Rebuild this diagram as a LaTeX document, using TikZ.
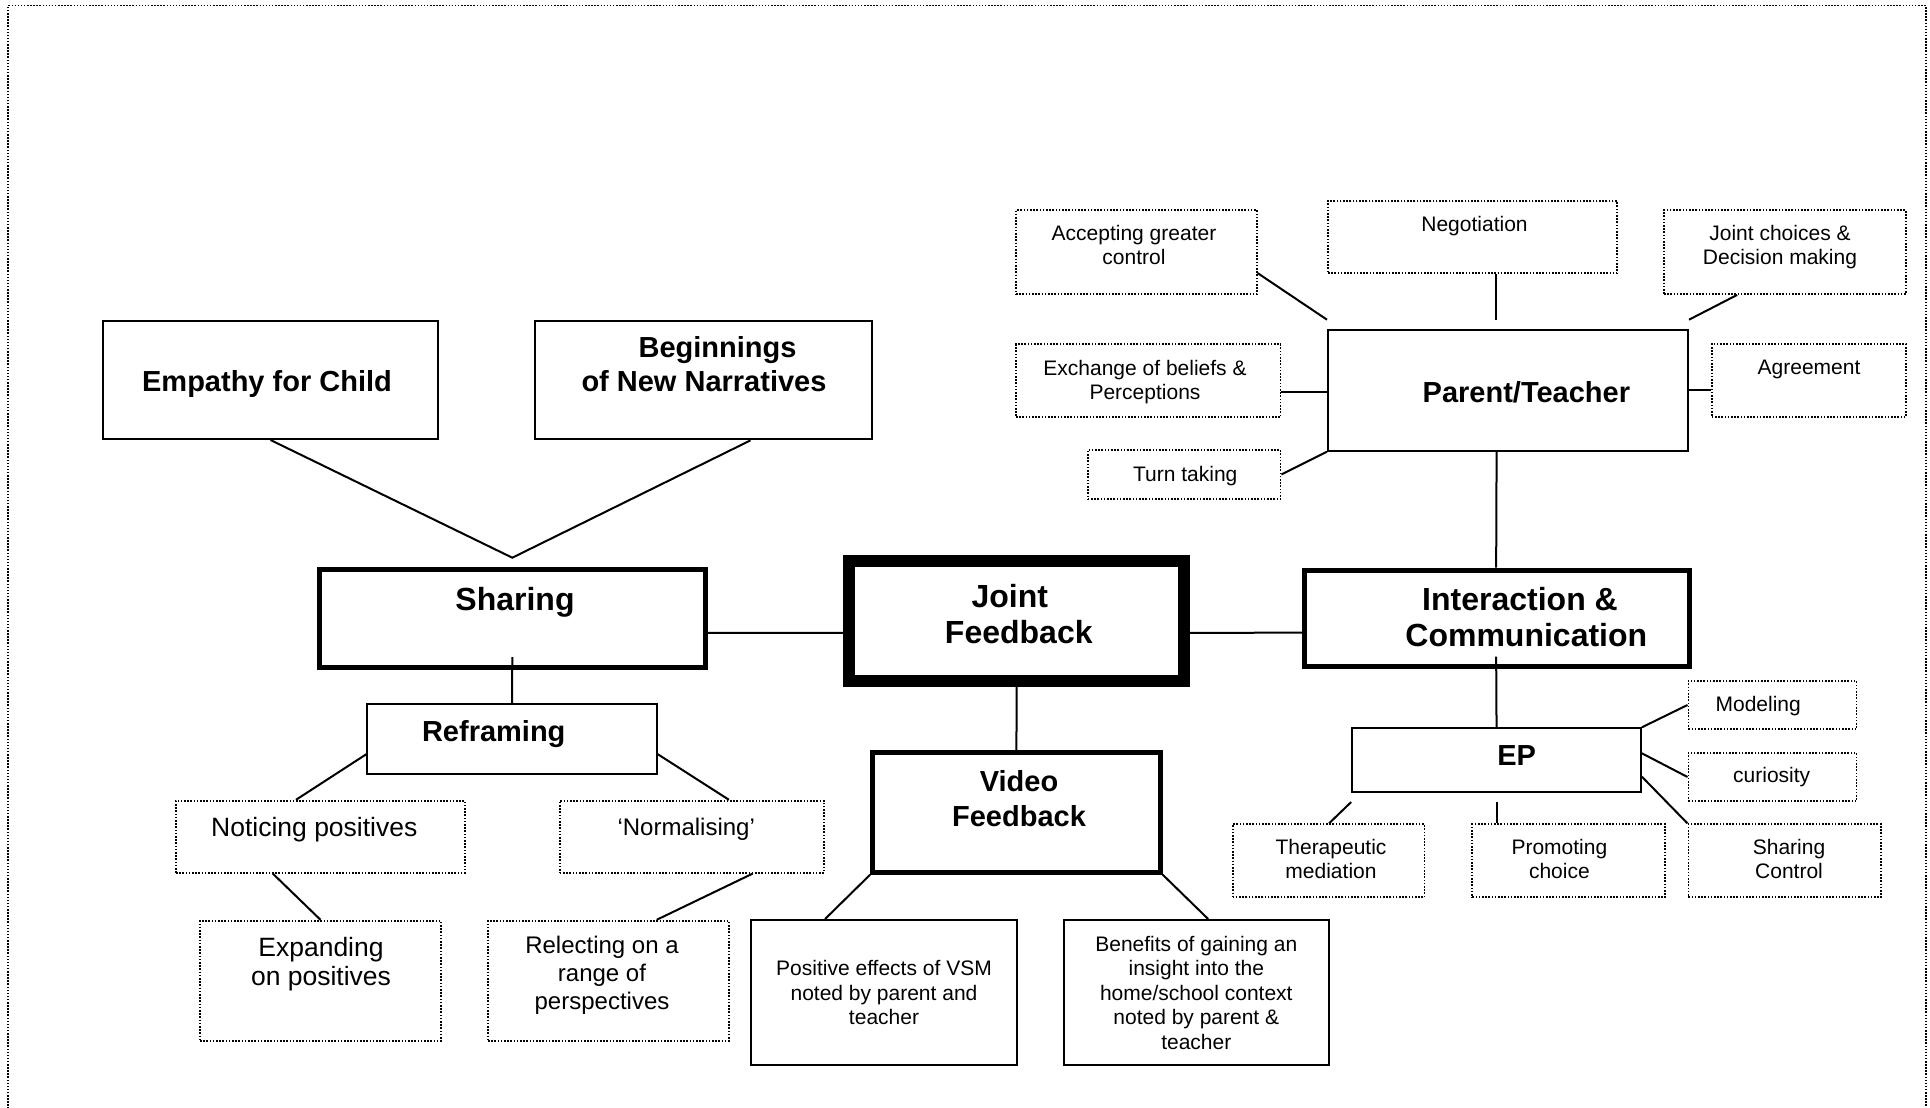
\documentclass[tikz,border=0pt]{standalone}
\usepackage{fontspec}
\setmainfont{Liberation Sans}
\usetikzlibrary{fit,calc}

\tikzset{
  plainbox/.style={draw, line width=2pt, inner sep=0pt},
  heavybox/.style={draw, line width=5pt, inner sep=0pt},
  corebox/.style={draw, line width=11.7pt, inner sep=0pt},
  dotbox/.style={draw, line width=1.8pt, dash pattern=on 1.6pt off 1.6pt, inner sep=0pt},
  link/.style={line width=2pt},
  border/.style={line width=1.6pt, dash pattern=on 1.5pt off 1.6pt},
  bigbold/.style={font=\fontsize{32}{36.5}\selectfont\bfseries, align=center, inner sep=0pt},
  midbold/.style={font=\fontsize{29}{34.5}\selectfont\bfseries, align=center, inner sep=0pt},
  largetext/.style={font=\fontsize{26.5}{29.5}\selectfont, align=center, inner sep=0pt},
  medtext/.style={font=\fontsize{24}{27.8}\selectfont, align=center, inner sep=0pt},
  smalltext/.style={font=\fontsize{21}{24.5}\selectfont, align=center, inner sep=0pt},
}

\begin{document}
\begin{tikzpicture}[x=1pt, y=-1pt]
\useasboundingbox (0,0) rectangle (1930,1108);
\fill[white] (0,0) rectangle (1930,1108);

% page border (open at the bottom)
\draw[border] (8,1112) -- (8,5.7) -- (1926,5.7) -- (1926,1112);

% ---------- boxes ----------
\node[plainbox, fit={(103,321) (438,439)}] (empathy) {};
\node[plainbox, fit={(535.4,321.3) (871.5,439.4)}] (beginnings) {};
\node[heavybox, fit={(319.5,569.2) (705.1,667.5)}] (sharing) {};
\node[corebox, fit={(849.2,560.8) (1184.2,680.8)}] (joint) {};
\node[heavybox, fit={(1304.8,570) (1689.5,666)}] (interaction) {};
\node[plainbox, fit={(1328,330) (1688,450.7)}] (pt) {};
\node[plainbox, fit={(367.4,704.3) (656.7,774)}] (reframing) {};
\node[heavybox, fit={(872.6,752.7) (1160.2,872.2)}] (video) {};
\node[plainbox, fit={(1352.2,728.3) (1640.9,791.7)}] (ep) {};

\node[dotbox, fit={(175.9,800.7) (464.7,872.7)}] (noticing) {};
\node[dotbox, fit={(559.8,800.7) (824.1,872.7)}] (normalising) {};
\node[dotbox, fit={(200,920.7) (441,1040.7)}] (expanding) {};
\node[dotbox, fit={(488,920.7) (729,1040.7)}] (relecting) {};
\node[plainbox, fit={(751.4,920) (1016.7,1065)}] (positive) {};
\node[plainbox, fit={(1063.7,920) (1328.6,1065)}] (benefits) {};

\node[dotbox, fit={(1016,210) (1256.8,294.3)}] (accepting) {};
\node[dotbox, fit={(1328,200.7) (1616.8,273.3)}] (negotiation) {};
\node[dotbox, fit={(1664,210) (1905.7,294)}] (jointchoices) {};
\node[dotbox, fit={(1016,344.3) (1280.5,417.3)}] (exchange) {};
\node[dotbox, fit={(1711.7,344) (1905.7,417)}] (agreement) {};
\node[dotbox, fit={(1087.8,450) (1280.5,499)}] (turntaking) {};

\node[dotbox, fit={(1688.4,680.7) (1856.4,729.3)}] (modeling) {};
\node[dotbox, fit={(1688.4,752.7) (1856.4,801.3)}] (curiosity) {};
\node[dotbox, fit={(1232.6,824.3) (1424.4,897.3)}] (therapeutic) {};
\node[dotbox, fit={(1472.3,824.3) (1665,897.3)}] (promoting) {};
\node[dotbox, fit={(1688.4,824.3) (1881.1,897.3)}] (sharingcontrol) {};

% ---------- labels ----------
\begin{scope}[shift={(0,-1.5)}]
\node[midbold, anchor=base] (empathy-t) at (267,393) {Empathy for Child};
\node[midbold] (beginnings-t) at (704,365.5) {\hspace*{27pt}Beginnings\\of New Narratives};
\node[bigbold, anchor=base] (sharing-t) at (515,612) {Sharing};
\node[bigbold] (joint-t) at (1018.8,615.5) {Joint\hspace*{18pt}\\Feedback};
\node[bigbold] (interaction-t) at (1526.3,618.5) {Interaction \&\hspace*{12.6pt}\\Communication};
\node[midbold, anchor=base] (pt-t) at (1526.4,404) {Parent/Teacher};
\node[midbold, anchor=base] (reframing-t) at (493.75,743.3) {Reframing};
\node[midbold, anchor=base] (ep-t) at (1516.6,767) {EP};
\node[midbold] (video-t) at (1019,800) {Video\\Feedback};

\node[largetext] (noticing-t) at (314.3,831) {Noticing positives};
\node[medtext] (normalising-t) at (686.2,831) {‘Normalising’};
\node[largetext] (expanding-t) at (321,965.8) {Expanding\\on positives};
\node[medtext] (relecting-t) at (602,977) {Relecting on a\\range of\\perspectives};
\node[smalltext] (positive-t) at (884,994.2) {Positive effects of VSM\\noted by parent and\\teacher};
\node[smalltext] (benefits-t) at (1196.3,994.2) {Benefits of gaining an\\insight into the\\home/school context\\noted by parent \&\\teacher};

\node[smalltext] (accepting-t) at (1134,246.7) {Accepting greater\\control};
\node[smalltext] (negotiation-t) at (1474.5,227.2) {Negotiation};
\node[smalltext] (jointchoices-t) at (1780,248.7) {Joint choices \&\\Decision making};
\node[smalltext] (exchange-t) at (1145,383.4) {Exchange of beliefs \&\\Perceptions};
\node[smalltext] (agreement-t) at (1809,371.2) {Agreement};
\node[smalltext] (turntaking-t) at (1185.3,477.2) {Turn taking};
\node[smalltext] (modeling-t) at (1758.2,707.2) {Modeling};
\node[smalltext] (curiosity-t) at (1771.7,778.9) {curiosity};
\node[smalltext] (therapeutic-t) at (1331,860.7) {Therapeutic\\mediation};
\node[smalltext] (promoting-t) at (1559.4,860.7) {Promoting\\choice};
\node[smalltext] (sharingcontrol-t) at (1789,860.7) {Sharing\\Control};
\end{scope}

% ---------- connectors ----------
\coordinate (vtx) at ($(sharing.north)+(0,-9)$);
\draw[link] (empathy.south) -- (vtx) -- ($(beginnings.south)+(47,0)$);
\draw[link] ($(sharing.east)+(0,14.5)$) -- ($(joint.west)+(0,12)$);
\draw[link] ($(joint.east)+(0,12)$) -- ($(interaction.west)+(0,14.7)$);
\draw[link] ($(sharing.south)+(0,-13)$) -- (reframing.north);
\draw[link] ($(reframing.west)+(0,15)$) -- ($(noticing.north)+(-24.3,0)$);
\draw[link] ($(reframing.east)+(0,15)$) -- ($(normalising.north)+(37,0)$);
\draw[link] ($(noticing.south)+(-47.5,0)$) -- (expanding.north);
\draw[link] ($(normalising.south)+(60.7,0)$) -- ($(relecting.north)+(48.2,0)$);
\draw[link] (joint.south) -- (video.north);
\draw[link] (video.south west) -- ($(positive.north)+(-59,0)$);
\draw[link] (video.south east) -- ($(benefits.north)+(12,0)$);

\draw[link] ($(pt.south)+(-11.4,0)$) -- ($(interaction.north)+(-1,0)$);
\draw[link] ($(interaction.south)+(-1,-12)$) -- (ep.north);
\draw[link] ($(accepting.east)+(0,21)$) -- ($(pt.north west)+(0,-9.3)$);
\draw[link] ($(negotiation.south)+(24,0)$) -- ($(pt.north)+(-11.6,-9.3)$);
\draw[link] ($(jointchoices.south)+(-47.7,0)$) -- ($(pt.north east)+(0,-9.3)$);
\coordinate (exA) at ($(exchange.east)+(0,11.5)$);
\draw[link] (exA) -- (exA -| pt.west);
\draw[link] (pt.east) -- (pt.east -| agreement.west);
\draw[link] (turntaking.east) -- (pt.south west);

\draw[link] (ep.north east) -- (modeling.west);
\draw[link] ($(ep.east)+(0,-6.7)$) -- (curiosity.west);
\draw[link] ($(ep.east)+(0,16.7)$) -- (sharingcontrol.north west);
\draw[link] ($(ep.south west)+(0,9.3)$) -- ($(therapeutic.north)+(0.5,0)$);
\coordinate (epB) at ($(ep.south)+(0,9.3)$);
\draw[link] (epB) -- (epB |- promoting.north);
\end{tikzpicture}
\end{document}
